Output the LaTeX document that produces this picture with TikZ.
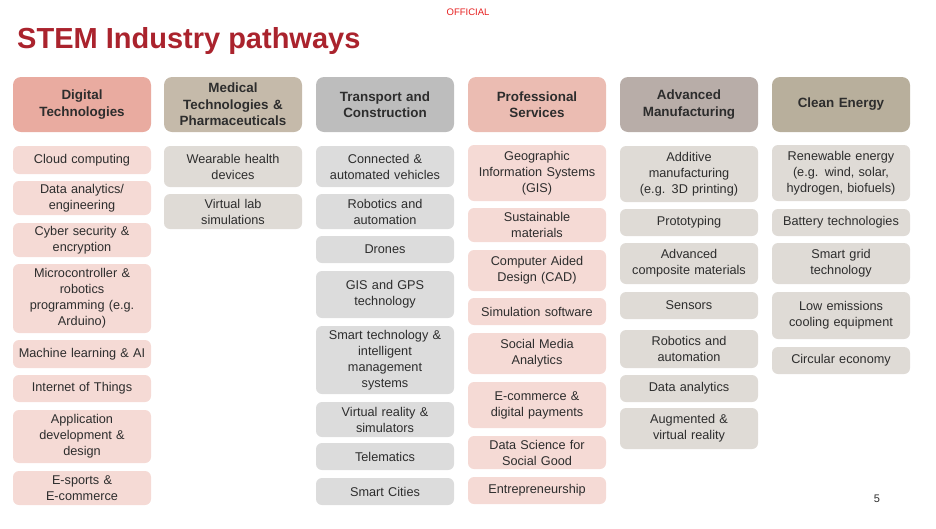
\documentclass[tikz,border=0pt]{standalone}
\usepackage{fontspec}
\setmainfont{Liberation Sans}
\usepackage{xcolor}
\definecolor{titlered}{RGB}{170,35,45}
\definecolor{offred}{RGB}{230,30,30}
\definecolor{txtgray}{RGB}{45,45,45}
\definecolor{hdigital}{RGB}{233,171,160}
\definecolor{hmedical}{RGB}{197,186,170}
\definecolor{htransport}{RGB}{189,189,189}
\definecolor{hprof}{RGB}{235,188,178}
\definecolor{hadvanced}{RGB}{184,173,168}
\definecolor{hclean}{RGB}{184,175,156}
\definecolor{ipink}{RGB}{245,218,213}
\definecolor{ibeige}{RGB}{223,219,214}
\definecolor{igray}{RGB}{220,220,220}
\usepackage{tikz}
\usetikzlibrary{positioning}

\begin{document}
\begin{tikzpicture}[x=1pt,y=-1pt,
  head/.style={rounded corners=8pt,align=center,text width=136pt,inner xsep=1pt,inner ysep=0pt,
    minimum height=55pt,text=txtgray,font=\fontsize{13.4}{16.3}\selectfont\bfseries},
  item/.style={rounded corners=6pt,align=center,text width=136pt,inner xsep=1pt,inner ysep=0pt,
    text=txtgray,font=\fontsize{12.7}{16}\selectfont}]
\useasboundingbox (0,0) rectangle (936,528);
\node[offred,font=\fontsize{9.5}{11}\selectfont] (official) at (468,12) {OFFICIAL};
\node[titlered,anchor=base west,inner sep=0pt,font=\fontsize{29}{32}\selectfont\bfseries] (title) at (17,48) {STEM Industry pathways};
% column headers
\foreach \n/\x/\fc/\txt in {hdig/82/hdigital/{Digital\\Technologies},
    hmed/233/hmedical/{Medical\\Technologies \&\\Pharmaceuticals},
    htra/385/htransport/{Transport and\\Construction},
    hpro/537/hprof/{Professional\\Services},
    hadv/689/hadvanced/{Advanced\\Manufacturing},
    hcle/841/hclean/{Clean Energy}} {
  \node[head,fill=\fc] (\n) at (\x,104.5) {\txt};
}
% Digital Technologies
\foreach \n/\t/\b/\txt in {dig1/146/174/{Cloud computing}, dig2/181/215/{Data analytics/\\engineering},
    dig3/223/257/{Cyber security \&\\encryption}, dig4/264/333/{Microcontroller \&\\robotics\\programming (e.g.\\Arduino)},
    dig5/340/368/{Machine learning \& AI}, dig6/375/402/{Internet of Things},
    dig7/410/463/{Application\\development \&\\design}, dig8/471/505/{E-sports \&\\E-commerce}} {
  \pgfmathsetmacro\h{\b-\t}
  \pgfmathsetmacro\m{(\t+\b)/2}
  \node[item,fill=ipink,minimum height=\h pt] (\n) at (82,\m) {\txt};
}
% Medical Technologies
\foreach \n/\t/\b/\txt in {med1/146/187/{Wearable health\\devices}, med2/194/229/{Virtual lab\\simulations}} {
  \pgfmathsetmacro\h{\b-\t}
  \pgfmathsetmacro\m{(\t+\b)/2}
  \node[item,fill=ibeige,minimum height=\h pt] (\n) at (233,\m) {\txt};
}
% Transport and Construction
\foreach \n/\t/\b/\txt in {tra1/146/187/{Connected \&\\automated vehicles}, tra2/194/229/{Robotics and\\automation},
    tra3/236/263/{Drones}, tra4/271/318/{GIS and GPS\\technology},
    tra5/326/394/{Smart technology \&\\intelligent\\management\\systems}, tra6/402/437/{Virtual reality \&\\simulators},
    tra7/443/470/{Telematics}, tra8/478/505/{Smart Cities}} {
  \pgfmathsetmacro\h{\b-\t}
  \pgfmathsetmacro\m{(\t+\b)/2}
  \node[item,fill=igray,minimum height=\h pt] (\n) at (385,\m) {\txt};
}
% Professional Services
\foreach \n/\t/\b/\txt in {pro1/145/201/{Geographic\\Information Systems\\(GIS)}, pro2/208/242/{Sustainable\\materials},
    pro3/250/291/{Computer Aided\\Design (CAD)}, pro4/298/325/{Simulation software},
    pro5/333/374/{Social Media\\Analytics}, pro6/382/428/{E-commerce \&\\digital payments},
    pro7/436/469/{Data Science for\\Social Good}, pro8/477/504/{Entrepreneurship}} {
  \pgfmathsetmacro\h{\b-\t}
  \pgfmathsetmacro\m{(\t+\b)/2}
  \node[item,fill=ipink,minimum height=\h pt] (\n) at (537,\m) {\txt};
}
% Advanced Manufacturing
\foreach \n/\t/\b/\txt in {adv1/146/202/{Additive\\manufacturing\\(e.g. 3D printing)}, adv2/209/236/{Prototyping},
    adv3/243/284/{Advanced\\composite materials}, adv4/292/319/{Sensors},
    adv5/330/368/{Robotics and\\automation}, adv6/375/402/{Data analytics},
    adv7/408/449/{Augmented \&\\virtual reality}} {
  \pgfmathsetmacro\h{\b-\t}
  \pgfmathsetmacro\m{(\t+\b)/2}
  \node[item,fill=ibeige,minimum height=\h pt] (\n) at (689,\m) {\txt};
}
% Clean Energy
\foreach \n/\t/\b/\txt in {cle1/145/201/{Renewable energy\\(e.g. wind, solar,\\hydrogen, biofuels)}, cle2/209/236/{Battery technologies},
    cle3/243/284/{Smart grid\\technology}, cle4/292/339/{Low emissions\\cooling equipment},
    cle5/347/374/{Circular economy}} {
  \pgfmathsetmacro\h{\b-\t}
  \pgfmathsetmacro\m{(\t+\b)/2}
  \node[item,fill=ibeige,minimum height=\h pt] (\n) at (841,\m) {\txt};
}
\node[txtgray,font=\fontsize{11}{13}\selectfont] (pagenum) at (877,499) {5};
\end{tikzpicture}
\end{document}
